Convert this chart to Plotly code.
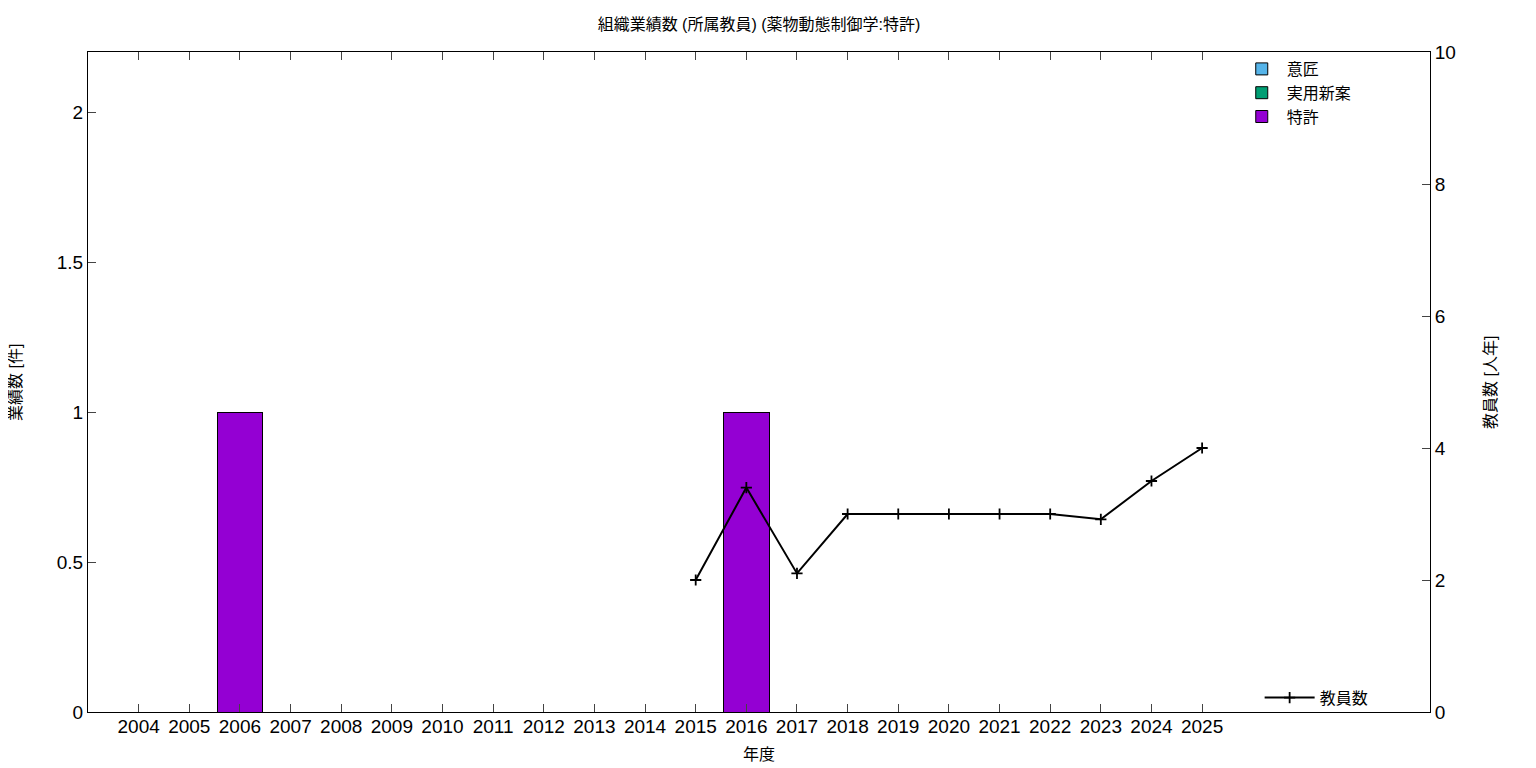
import plotly.graph_objects as go

years = list(range(2004, 2026))
design = [0] * 22
utility = [0] * 22
patent = [0, 0, 1, 0, 0, 0, 0, 0, 0, 0, 0, 0, 1, 0, 0, 0, 0, 0, 0, 0, 0, 0]
staff_years = list(range(2015, 2026))
staff = [2.0, 3.4, 2.1, 3.0, 3.0, 3.0, 3.0, 3.0, 2.92, 3.5, 4.0]

FONT = "Liberation Sans, Noto Sans CJK JP, sans-serif"

fig = go.Figure()
for name, vals, col in [("意匠", design, "#56b4e9"),
                        ("実用新案", utility, "#009e73"),
                        ("特許", patent, "#9400d3")]:
    fig.add_trace(go.Bar(x=years, y=vals, name=name, width=0.9,
                         marker=dict(color=col, line=dict(color="black", width=1)),
                         legend="legend"))

fig.add_trace(go.Scatter(x=staff_years, y=staff, name="教員数", yaxis="y2",
                         mode="lines+markers",
                         line=dict(color="black", width=2),
                         marker=dict(symbol="cross-thin", size=8,
                                     line=dict(color="black", width=1.8)),
                         legend="legend2"))

fig.update_layout(
    width=1528, height=760,
    barmode="stack",
    plot_bgcolor="white", paper_bgcolor="white",
    font=dict(family=FONT, size=19, color="black"),
    margin=dict(l=80, r=106, t=44, b=56, autoexpand=False),
    title=dict(text="組織業績数 (所属教員) (薬物動態制御学:特許)", xref="paper", x=0.5,
               xanchor="center", y=0.978, yanchor="middle", font=dict(size=16)),
    xaxis=dict(range=[2003, 2029.5], tickmode="array", tickvals=years,
               ticktext=[str(y) for y in years], ticks="inside", ticklen=8,
               showline=True, linecolor="black", linewidth=1, mirror="ticks",
               showgrid=False, zeroline=False, automargin=False,
               ticklabelstandoff=-3),
    yaxis=dict(range=[0, 2.2], tickmode="array", tickvals=[0, 0.5, 1, 1.5, 2],
               ticktext=["0", "0.5", "1", "1.5", "2"], ticks="inside", ticklen=8,
               showline=True, linecolor="black", linewidth=1, mirror=True,
               showgrid=False, zeroline=False, automargin=False),
    yaxis2=dict(range=[0, 10], overlaying="y", side="right", tickmode="array",
                tickvals=[0, 2, 4, 6, 8, 10], ticks="inside", ticklen=8,
                showline=True, linecolor="black", linewidth=1,
                showgrid=False, zeroline=False, automargin=False),
    legend=dict(x=0.856, y=1.0, xanchor="left", yanchor="top",
                bgcolor="rgba(0,0,0,0)", font=dict(size=16), traceorder="normal",
                itemwidth=40, tracegroupgap=0),
    legend2=dict(x=0.958, y=-0.004, xanchor="right", yanchor="bottom",
                 bgcolor="rgba(0,0,0,0)", font=dict(size=16), itemwidth=50),
    showlegend=True,
    annotations=[
        dict(text="年度", xref="paper", yref="paper", x=0.5, y=-0.065,
             xanchor="center", yanchor="middle", showarrow=False, font=dict(size=16)),
        dict(text="業績数 [件]", xref="paper", yref="paper", x=-0.0544, y=0.5,
             xanchor="center", yanchor="middle", textangle=-90, showarrow=False,
             font=dict(size=16)),
        dict(text="教員数 [人年]", xref="paper", yref="paper", x=1.0447, y=0.5,
             xanchor="center", yanchor="middle", textangle=-90, showarrow=False,
             font=dict(size=16)),
    ],
)

fig.write_html("out.html")
